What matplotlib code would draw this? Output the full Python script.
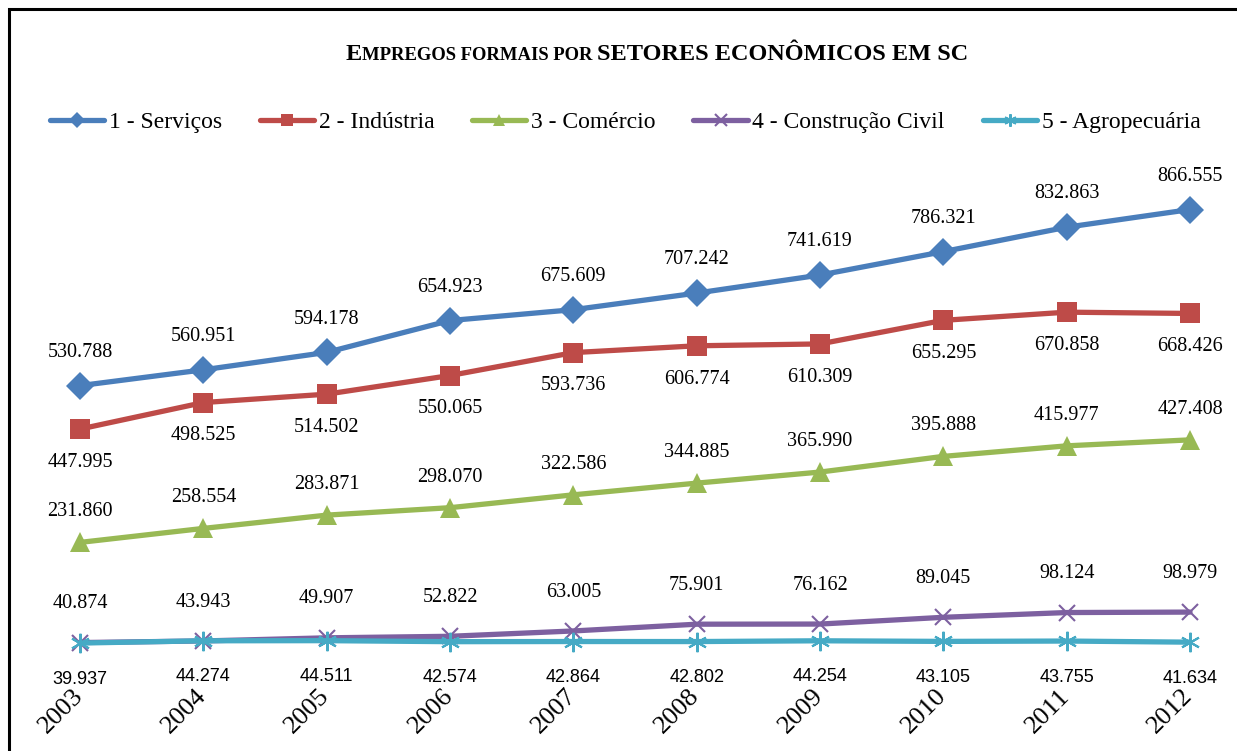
import matplotlib
matplotlib.use("Agg")
from matplotlib import pyplot as plt
from matplotlib.lines import Line2D
from matplotlib.patches import Rectangle
from matplotlib.offsetbox import TextArea, HPacker, AnnotationBbox
from matplotlib.transforms import ScaledTranslation

years = ["2003", "2004", "2005", "2006", "2007", "2008", "2009", "2010", "2011", "2012"]
servicos = [530.788, 560.951, 594.178, 654.923, 675.609, 707.242, 741.619, 786.321, 832.863, 866.555]
industria = [447.995, 498.525, 514.502, 550.065, 593.736, 606.774, 610.309, 655.295, 670.858, 668.426]
comercio = [231.860, 258.554, 283.871, 298.070, 322.586, 344.885, 365.990, 395.888, 415.977, 427.408]
construcao = [40.874, 43.943, 49.907, 52.822, 63.005, 75.901, 76.162, 89.045, 98.124, 98.979]
agro = [39.937, 44.274, 44.511, 42.574, 42.864, 42.802, 44.254, 43.105, 43.755, 41.634]

names = ["1 - Serviços", "2 - Indústria", "3 - Comércio", "4 - Construção Civil", "5 - Agropecuária"]
colors = ["#4A7EBB", "#BE4B48", "#98B954", "#7D60A0", "#46AAC5"]

serif = ["Liberation Serif", "DejaVu Serif"]
sans = ["Liberation Sans", "DejaVu Sans"]

fig = plt.figure(figsize=(12.37, 7.51), dpi=100)
ax = fig.add_axes([80 / 1237, (751 - 664) / 751, (1190 - 80) / 1237, (664 - 192) / 751])
ax.set_xlim(0, 9)
ax.set_ylim(0, 900)

x = list(range(len(years)))
# values, marker, size, label offset (pt), side, label font, font size, legend marker size
series = [
    (servicos, "D", 14, 24, "above", serif, 14.5, 8),
    (industria, "s", 14, 24, "below", serif, 14.5, 9),
    (comercio, "^", 14, 22, "above", serif, 14.5, 8),
    (construcao, "x", 12, 28, "above", serif, 14.5, 8),
    (agro, (6, 2, 0), 14, 26, "below", sans, 13, 9),
]
handles = []
for (vals, mk, ms, off, pos, fam, fs, lms), name, c in zip(series, names, colors):
    mew = 1.5 if mk == "x" or isinstance(mk, tuple) else 0
    ax.plot(x, vals, color=c, lw=3.8, marker=mk, ms=ms, mec=c, mew=mew,
            clip_on=False, solid_capstyle="round")
    handles.append(Line2D([], [], color=c, lw=3.8, marker=mk, ms=lms, mec=c,
                          mew=mew, solid_capstyle="round", label=name))
    for xi, v in zip(x, vals):
        dy = off if pos == "above" else -off
        ax.annotate(f"{v:.3f}", (xi, v), xytext=(0, dy), textcoords="offset points",
                    ha="center", va="center", fontsize=fs, family=fam, color="black")

for s in ax.spines.values():
    s.set_visible(False)
ax.set_yticks([])
ax.set_xticks(x)
ax.set_xticklabels(years, rotation=45, ha="right", rotation_mode="anchor",
                   fontsize=19, family=serif)
ax.tick_params(axis="x", length=0, pad=15)
shift = ScaledTranslation(-6 / 72, 0, fig.dpi_scale_trans)
for lab in ax.get_xticklabels():
    lab.set_transform(lab.get_transform() + shift)

fig.legend(handles=handles, loc="center", bbox_to_anchor=(625 / 1237, 1 - 122 / 751),
           ncol=5, frameon=False, prop={"family": serif, "size": 17},
           handlelength=2.3, handletextpad=0.2, columnspacing=1.6)

# title in small caps
big = dict(family=serif, weight="bold", size=17.5)
small = dict(family=serif, weight="bold", size=13.4)
parts = [TextArea("E", textprops=big), TextArea("MPREGOS FORMAIS POR ", textprops=small),
         TextArea("SETORES ECONÔMICOS EM SC", textprops=big)]
pack = HPacker(children=parts, align="baseline", pad=0, sep=0)
ab = AnnotationBbox(pack, (657 / 1237, 1 - 55 / 751), xycoords="figure fraction",
                    frameon=False, box_alignment=(0.5, 0.5))
fig.add_artist(ab)

fig.add_artist(Rectangle((9 / 1237, -0.1), 1.2, 1 - 9 / 751 + 0.1, transform=fig.transFigure,
                         fill=False, ec="black", lw=2.2))

fig.savefig("out.png", dpi=100)
